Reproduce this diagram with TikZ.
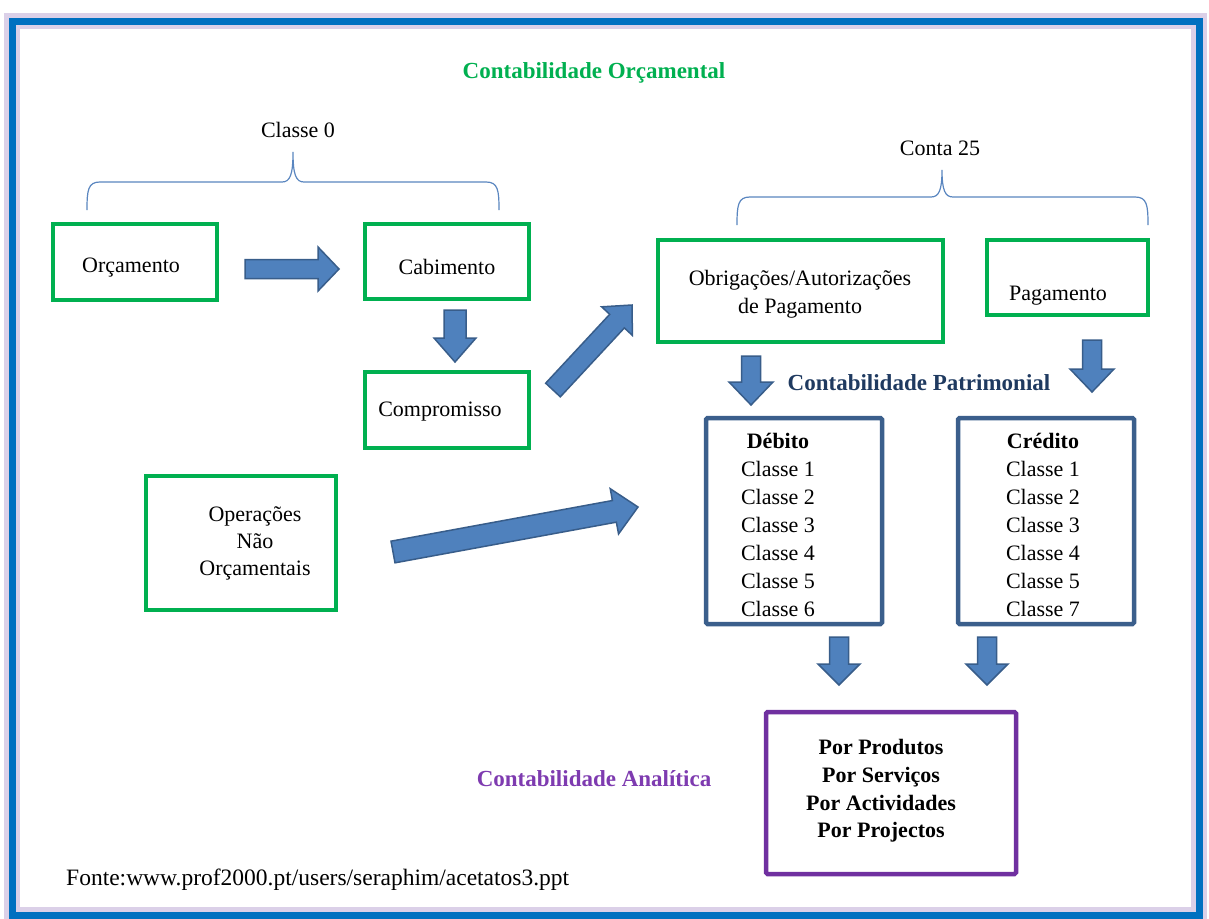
\documentclass[tikz,border=0pt]{standalone}
\usepackage{fontspec}
\setmainfont{Liberation Serif}
\usetikzlibrary{calc}

\definecolor{boxgreen}{HTML}{00B050}
\definecolor{boxblue}{HTML}{3B5F8C}
\definecolor{arrowfill}{HTML}{4F81BD}
\definecolor{arrowline}{HTML}{385D8A}
\definecolor{boxpurple}{HTML}{7030A0}
\definecolor{titlepurple}{HTML}{7E3BB0}
\definecolor{frameblue}{HTML}{0070C0}
\definecolor{frameglow}{HTML}{C4B2DA}
\definecolor{navytext}{HTML}{1F3A60}
\definecolor{bracecol}{HTML}{5A86C0}

% block arrow: tail, tip, shaft half width, head half width, head length
\newcommand\blockarrow[5]{%
  \coordinate (hb) at ($(#2)!#5!(#1)$);
  \filldraw[blockarr]
    ($(#1)!#3!90:(#2)$) -- ($(hb)!#3!90:(#2)$) -- ($(hb)!#4!90:(#2)$) -- (#2)
    -- ($(hb)!#4!-90:(#2)$) -- ($(hb)!#3!-90:(#2)$) -- ($(#1)!#3!-90:(#2)$) -- cycle;}

\begin{document}
\begin{tikzpicture}[x=1pt,y=-1pt,
  txt/.style={font=\fontsize{22}{28}\selectfont, inner sep=0pt, align=center},
  head/.style={font=\fontsize{23}{28}\selectfont\bfseries, inner sep=0pt, align=center},
  gbox/.style={draw=boxgreen, line width=4pt, rectangle, inner sep=0pt},
  bbox/.style={draw=boxblue, line width=4.5pt, rectangle, rounded corners=1.5pt, inner sep=0pt},
  pbox/.style={draw=boxpurple, line width=4.5pt, rectangle, rounded corners=1.5pt, inner sep=0pt},
  blockarr/.style={fill=arrowfill, draw=arrowline, line width=1.5pt, line join=miter},
  brace/.style={draw=bracecol, line width=1.2pt}]

\useasboundingbox (0,0) rectangle (1209,918);
\fill[white] (0,0) rectangle (1209,918);

% page frame with soft glow
\draw[frameglow, line width=16pt, opacity=0.6] (12,21) rectangle (1199,915);
\draw[frameblue, line width=7pt] (12,21) rectangle (1199,915);

% section titles
\node[head, text=boxgreen] (ttlorc) at (594,73) {Contabilidade Orçamental};
\node[head, text=navytext] (ttlpat) at (919,383) {Contabilidade Patrimonial};
\node[head, text=titlepurple] (ttlana) at (594,779) {Contabilidade Analítica};

% braces
\node[txt] (cl0) at (298,130) {Classe 0};
\draw[brace] (87,210) .. controls (87,190) and (88,182) .. (100,182) -- (282,182)
  .. controls (290,182) and (293,175) .. (293,152)
  .. controls (293,175) and (296,182) .. (304,182) -- (486,182)
  .. controls (498,182) and (499,190) .. (499,210);
\node[txt] (c25) at (940,148) {Conta 25};
\draw[brace] (737,225) .. controls (737,205) and (738,197) .. (750,197) -- (931,197)
  .. controls (939,197) and (942,190) .. (942,170)
  .. controls (942,190) and (945,197) .. (953,197) -- (1135,197)
  .. controls (1147,197) and (1148,205) .. (1148,225);

% green boxes
\node[gbox, minimum width=164pt, minimum height=76pt] (orc) at (135,262) {};
\node[txt] (orct) at (131,268) {Orçamento};
\node[gbox, minimum width=164pt, minimum height=75pt] (cab) at (447,261.5) {};
\node[txt] (cabt) at (447,267) {Cabimento};
\node[gbox, minimum width=164pt, minimum height=76pt] (comp) at (447,410) {};
\node[txt] (compt) at (440,412) {Compromisso};
\node[gbox, minimum width=190pt, minimum height=134pt] (ops) at (241,543) {};
\node[txt, font=\fontsize{22}{27}\selectfont] (opst) at (255,543) {Operações\\Não\\Orçamentais};
\node[gbox, minimum width=285pt, minimum height=102pt] (obr) at (800.5,291) {};
\node[txt] (obrt) at (800,294) {Obrigações/Autorizações\\de Pagamento};
\node[gbox, minimum width=161pt, minimum height=75pt] (pag) at (1067.5,277.5) {};
\node[txt] (pagt) at (1058,296) {Pagamento};

% debit / credit boxes
\node[bbox, minimum width=176pt, minimum height=206pt] (deb) at (794,521) {};
\node[txt] (debt) at (778,525) {\textbf{Débito}\\Classe 1\\Classe 2\\Classe 3\\Classe 4\\Classe 5\\Classe 6};
\node[bbox, minimum width=176pt, minimum height=206pt] (cred) at (1046,521) {};
\node[txt] (credt) at (1043,525) {\textbf{Crédito}\\Classe 1\\Classe 2\\Classe 3\\Classe 4\\Classe 5\\Classe 7};

% analytic box
\node[pbox, minimum width=250pt, minimum height=162pt] (ana) at (891,793) {};
\node[head, font=\fontsize{22}{27.7}\selectfont\bfseries] (anat) at (881,791) {Por Produtos\\Por Serviços\\Por Actividades\\Por Projectos};

% source
\node[txt, font=\fontsize{23.5}{28}\selectfont, anchor=west] (src) at (66,880) {Fonte:www.prof2000.pt/users/seraphim/acetatos3.ppt};

% arrow end points
\coordinate (a1s) at (245,269);  \coordinate (a1e) at (339,269);
\coordinate (a2s) at (455,310);  \coordinate (a2e) at (455,362);
\coordinate (a3s) at (553,390);  \coordinate (a3e) at (632,305);
\coordinate (a4s) at (393,552);  \coordinate (a4e) at (638,507);
\coordinate (a5s) at (751,356);  \coordinate (a5e) at (751,405);
\coordinate (a6s) at (1092,340); \coordinate (a6e) at (1092,392);
\coordinate (a7s) at (839,637);  \coordinate (a7e) at (839,685);
\coordinate (a8s) at (987,637);  \coordinate (a8e) at (987,685);

\blockarrow{a1s}{a1e}{9.5pt}{22pt}{21pt}
\blockarrow{a2s}{a2e}{11pt}{21pt}{24pt}
\blockarrow{a3s}{a3e}{10pt}{21pt}{22pt}
\blockarrow{a4s}{a4e}{11pt}{23pt}{24pt}
\blockarrow{a5s}{a5e}{9.5pt}{22pt}{23pt}
\blockarrow{a6s}{a6e}{9.5pt}{22pt}{23pt}
\blockarrow{a7s}{a7e}{9.5pt}{21pt}{21pt}
\blockarrow{a8s}{a8e}{9.5pt}{21pt}{21pt}

\end{tikzpicture}
\end{document}
